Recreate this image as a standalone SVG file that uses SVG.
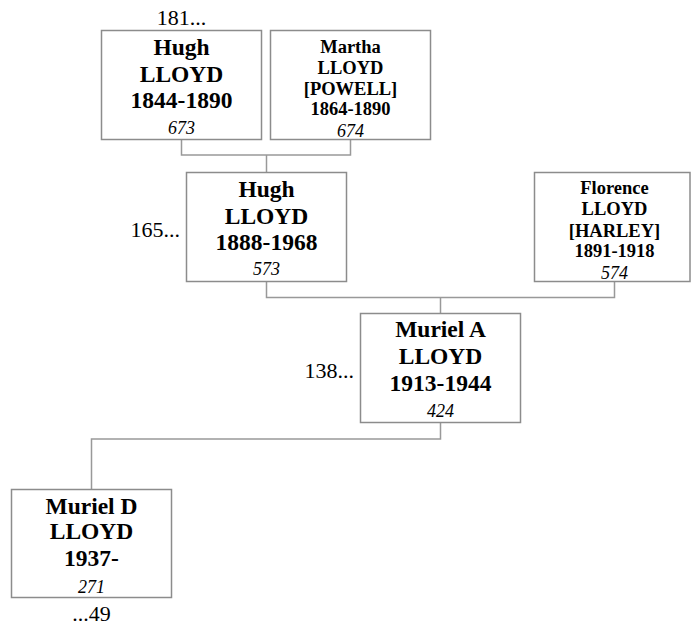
<svg xmlns="http://www.w3.org/2000/svg" width="692" height="625" viewBox="0 0 692 625">
<style>
  .box{fill:#fff;stroke:#8c8c8c;stroke-width:1.5}
  .ln{fill:none;stroke:#999;stroke-width:1.5}
  text{font-family:"Liberation Serif","Times New Roman",serif;fill:#000}
  .big{font-size:23.5px;font-weight:bold;text-anchor:middle}
  .sm{font-size:18.5px;font-weight:bold;text-anchor:middle}
  .num{font-size:18px;font-style:italic;text-anchor:middle}
  .lab{font-size:22px}
</style>
<rect width="692" height="625" fill="#fff"/>
<g id="connectors">
  <polyline class="ln" points="181.5,139.5 181.5,155 350.5,155 350.5,139.5"/>
  <line class="ln" x1="266.5" y1="155" x2="266.5" y2="172.5"/>
  <polyline class="ln" points="266.5,281.5 266.5,297.5 614.5,297.5 614.5,281.5"/>
  <line class="ln" x1="440.5" y1="297.5" x2="440.5" y2="313.5"/>
  <polyline class="ln" points="440.5,422.5 440.5,439 91.5,439 91.5,489.5"/>
</g>
<g id="n673">
  <rect class="box" x="101.5" y="30.5" width="160" height="109"/>
  <text class="big" x="181.5" y="55">Hugh</text>
  <text class="big" x="181.5" y="81.5">LLOYD</text>
  <text class="big" x="181.5" y="107.5">1844-1890</text>
  <text class="num" x="181.5" y="133.5">673</text>
  <text class="lab" x="181.5" y="25" text-anchor="middle">181...</text>
</g>
<g id="n674">
  <rect class="box" x="270.5" y="30.5" width="160" height="109"/>
  <text class="sm" x="350.5" y="53">Martha</text>
  <text class="sm" x="350.5" y="73.5">LLOYD</text>
  <text class="sm" x="350.5" y="94.5">[POWELL]</text>
  <text class="sm" x="350.5" y="115">1864-1890</text>
  <text class="num" x="350.5" y="136.5">674</text>
</g>
<g id="n573">
  <rect class="box" x="186.5" y="172.5" width="160" height="109"/>
  <text class="big" x="266.5" y="197">Hugh</text>
  <text class="big" x="266.5" y="223.5">LLOYD</text>
  <text class="big" x="266.5" y="249.5">1888-1968</text>
  <text class="num" x="266.5" y="275">573</text>
  <text class="lab" x="180" y="237" text-anchor="end">165...</text>
</g>
<g id="n574">
  <rect class="box" x="534.5" y="172.5" width="155.5" height="109"/>
  <text class="sm" x="614.5" y="194">Florence</text>
  <text class="sm" x="614.5" y="215">LLOYD</text>
  <text class="sm" x="614.5" y="236.5">[HARLEY]</text>
  <text class="sm" x="614.5" y="257">1891-1918</text>
  <text class="num" x="614.5" y="278.5">574</text>
</g>
<g id="n424">
  <rect class="box" x="360.5" y="313.5" width="160" height="109"/>
  <text class="big" x="440.5" y="337">Muriel A</text>
  <text class="big" x="440.5" y="364">LLOYD</text>
  <text class="big" x="440.5" y="390.5">1913-1944</text>
  <text class="num" x="440.5" y="417">424</text>
  <text class="lab" x="354" y="378" text-anchor="end">138...</text>
</g>
<g id="n271">
  <rect class="box" x="11.5" y="489.5" width="160" height="108"/>
  <text class="big" x="91.5" y="513.5">Muriel D</text>
  <text class="big" x="91.5" y="539">LLOYD</text>
  <text class="big" x="91.5" y="565.5">1937-</text>
  <text class="num" x="91.5" y="593">271</text>
  <text class="lab" x="91.5" y="621" text-anchor="middle">...49</text>
</g>
</svg>
